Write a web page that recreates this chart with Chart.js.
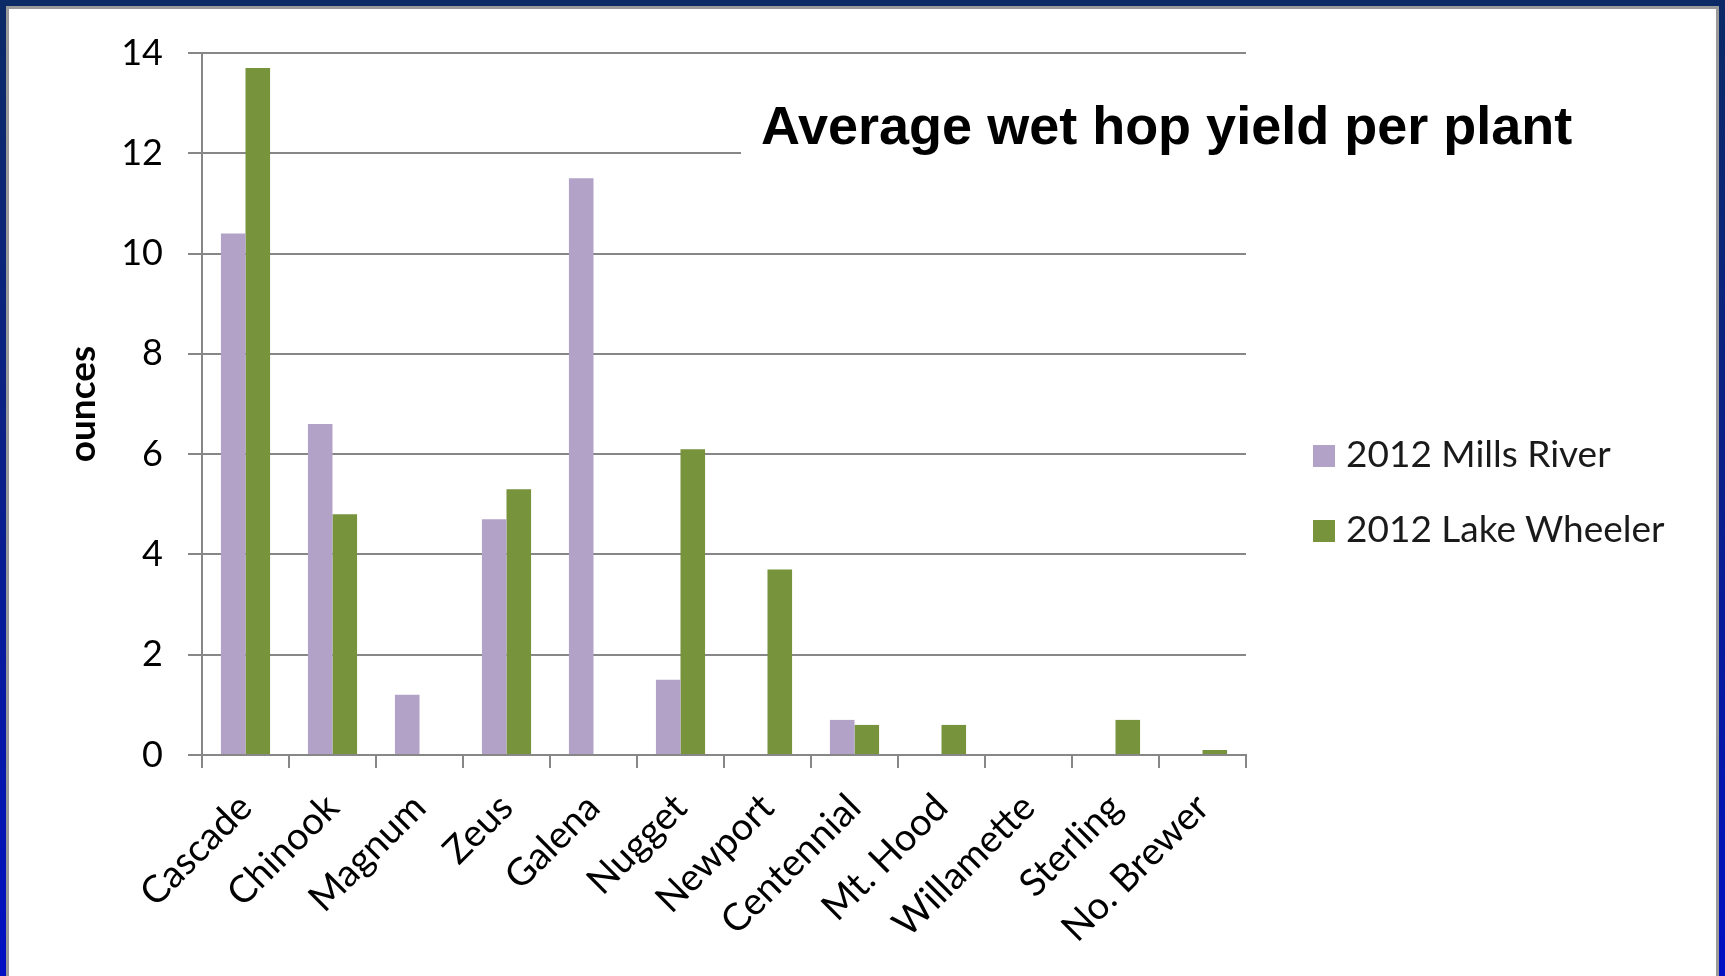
<!DOCTYPE html>
<html>
<head>
<meta charset="utf-8">
<title>Average wet hop yield per plant</title>
<script src="https://cdn.jsdelivr.net/npm/chart.js@4.4.1/dist/chart.umd.min.js"></script>
<style>
  html, body { margin: 0; padding: 0; width: 1725px; height: 976px; overflow: hidden; }
  body { background: linear-gradient(to bottom, #0b2a66 0%, #0a1f8a 50%, #0010c4 100%); position: relative; }
  .panel { position: absolute; left: 6px; top: 6px; width: 1713px; height: 990px; box-sizing: border-box;
           background: #fff; border: 3px solid #9a9a9a; border-bottom: none; }
  #chart { position: absolute; left: 0; top: 0; z-index: 1; }
  .titulo { position: absolute; left: 741px; top: 94px; height: 60px; line-height: 60px; padding: 0 60px 10px 20px;
            background: #fff; z-index: 2; font: bold 54px "Liberation Sans", Arial, sans-serif; color: #000; white-space: nowrap; }
  .leyenda { position: absolute; left: 1313px; top: 0; z-index: 2; font: 37px Lato, sans-serif; color: #1a1a1a; }
  .item { position: absolute; left: 0; white-space: nowrap; }
  .item i { position: absolute; left: 0; width: 22px; height: 22px; }
  .item span { position: absolute; left: 33px; top: 0; line-height: 44px; }
</style>
</head>
<body>
<div class="panel"></div>
<canvas id="chart" width="1725" height="976"></canvas>
<div class="titulo">Average wet hop yield per plant</div>
<div class="leyenda" id="leyenda"></div>

<script>
// ============ DATOS ============
const variedades = ['Cascade', 'Chinook', 'Magnum', 'Zeus', 'Galena', 'Nugget', 'Newport',
                    'Centennial', 'Mt. Hood', 'Willamette', 'Sterling', 'No. Brewer'];
const millsRiver  = [10.4, 6.6, 1.2, 4.7, 11.5, 1.5, 0, 0.7, 0, 0, 0, 0];
const lakeWheeler = [13.7, 4.8, 0, 5.3, 0, 6.1, 3.7, 0.6, 0.6, 0, 0.7, 0.1];
const seriesNombres = ['2012 Mills River', '2012 Lake Wheeler'];
const yTicks = [0, 2, 4, 6, 8, 10, 12, 14];

const COLORES = ['#b3a2c7', '#77933c'];
const GRIS = '#878787';
const FUENTE = 'Lato';

// ============ CHART ============
const PAD_IZQ = 20;

const chart = new Chart(document.getElementById('chart'), {
  type: 'bar',
  data: {
    labels: variedades,
    datasets: [
      { label: seriesNombres[0], data: millsRiver, backgroundColor: COLORES[0] },
      { label: seriesNombres[1], data: lakeWheeler, backgroundColor: COLORES[1] },
    ],
  },
  options: {
    responsive: false, animation: false,
    layout: { padding: { left: PAD_IZQ, top: 53, right: 479, bottom: 0 } },
    datasets: { bar: { barPercentage: 1, categoryPercentage: 0.565 } },
    plugins: { legend: { display: false }, tooltip: { enabled: false } },
    scales: {
      x: {
        grid: { display: true, drawOnChartArea: false, drawTicks: true, tickLength: 13, color: GRIS, lineWidth: 2, offset: true },
        border: { display: true, color: GRIS, width: 2 },
        ticks: { color: '#000', font: { family: FUENTE, size: 38 }, minRotation: 45, maxRotation: 45, autoSkip: false, padding: 17 },
        afterFit: (s) => { s.height = 976 - 755; },
      },
      y: {
        min: 0, max: 14,
        afterBuildTicks: (s) => { s.ticks = yTicks.map(v => ({ value: v })); },
        grid: { color: GRIS, lineWidth: 2, tickLength: 14, drawTicks: true },
        border: { display: true, color: GRIS, width: 2 },
        ticks: { color: '#000', font: { family: FUENTE, size: 36 }, padding: 25 },
        title: { display: true, text: 'ounces', color: '#000', font: { family: FUENTE, size: 37, weight: 'bold' }, padding: { top: 41, bottom: 0 } },
        afterFit: (s) => { s.width = 202 - PAD_IZQ; },
      },
    },
  },
});

// ============ LEYENDA ============
const leyenda = document.getElementById('leyenda');
seriesNombres.forEach((nombre, i) => {
  const top = 445 + i * 75;
  const it = document.createElement('div');
  it.className = 'item';
  it.style.top = top + 'px';
  it.innerHTML = `<i style="background:${COLORES[i]}"></i><span style="top:${-14}px">${nombre}</span>`;
  leyenda.appendChild(it);
});
</script>
</body>
</html>
